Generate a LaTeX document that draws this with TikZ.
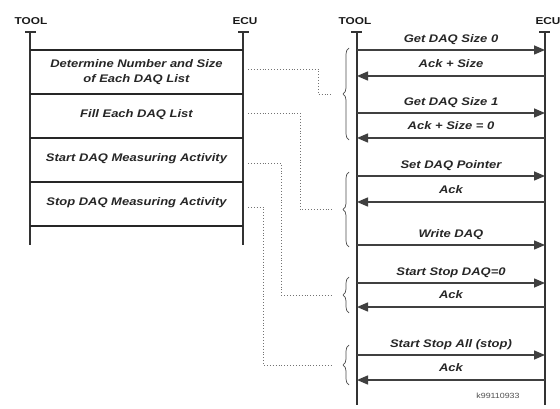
\documentclass[tikz,border=0pt]{standalone}
\usepackage{fontspec}
\newfontfamily\diagfont[FakeStretch=1.18]{Liberation Sans}
\usetikzlibrary{arrows.meta,decorations.pathreplacing,calc}

\begin{document}
\begin{tikzpicture}[x=1pt,y=-1pt,
  lifeline/.style={line width=2.6pt, draw=black!80},
  lifecap/.style={line width=2pt, draw=black!80},
  rowline/.style={line width=1.3pt, draw=black!85},
  msg/.style={line width=1.5pt, draw=black!75, -{Triangle[length=11pt,width=9pt]}},
  lbl/.style={font=\diagfont\fontsize{11}{15}\selectfont\bfseries\itshape, text=black!85, inner sep=0pt, align=center},
  head/.style={font=\diagfont\fontsize{10}{12}\selectfont\bfseries, text=black!90, inner sep=0pt},
  link/.style={dotted, line width=0.9pt, draw=black!55},
  bracket/.style={decorate, decoration={brace, amplitude=6pt}, line width=0.7pt, draw=black!70}
]
\useasboundingbox (0,0) rectangle (560,409);

% ---------- left: phases ----------
\node[head] (ltool) at (31,21) {TOOL};
\node[head] (lecu)  at (245,21) {ECU};
\draw[lifecap] (25,32) -- (36,32);
\draw[lifecap] (238,32) -- (249,32);
\draw[lifeline] (30,32) -- (30,245);
\draw[lifeline] (243,32) -- (243,245);
\foreach \y in {50,94,138,182,226}
  \draw[rowline] (30,\y) -- (243,\y);

\node[lbl] (p1) at (136.5,72) {Determine Number and Size\\of Each DAQ List};
\node[lbl] (p2) at (136.5,115) {Fill Each DAQ List};
\node[lbl] (p3) at (136.5,159) {Start DAQ Measuring Activity};
\node[lbl] (p4) at (136.5,203) {Stop DAQ Measuring Activity};

% ---------- right: messages ----------
\node[head] (rtool) at (355,21) {TOOL};
\node[head] (recu)  at (548,21) {ECU};
\draw[lifecap] (351,32) -- (362,32);
\draw[lifecap] (539,32) -- (550,32);
\draw[lifeline] (357,32) -- (357,405);
\draw[lifeline] (545,32) -- (545,405);

\foreach \y/\txt in {50/Get DAQ Size 0, 113/Get DAQ Size 1, 176/Set DAQ Pointer,
                     245/Write DAQ, 283/Start Stop DAQ=0, 355/Start Stop All (stop)}
  \draw[msg] (357,\y) -- (545,\y) node[lbl, midway, yshift=10pt] {\txt};
\foreach \y/\txt in {76/Ack + Size, 138/Ack + Size = 0, 202/Ack, 307/Ack, 380/Ack}
  \draw[msg] (545,\y) -- (357,\y) node[lbl, midway, yshift=12pt] {\txt};

\node[font=\diagfont\fontsize{7.5}{9}\selectfont, text=black!70, inner sep=0pt] (ref) at (498,396) {k99110933};

% ---------- braces grouping the messages ----------
\draw[bracket] (349,140) -- (349,48) coordinate[midway, xshift=-7pt] (b1);
\draw[bracket] (349,247) -- (349,172) coordinate[midway, xshift=-7pt] (b2);
\draw[bracket] (349,313) -- (349,277) coordinate[midway, xshift=-7pt] (b3);
\draw[bracket] (349,385) -- (349,345) coordinate[midway, xshift=-7pt] (b4);

% ---------- dotted links from phases to message groups ----------
\coordinate (s1) at (248,69);
\coordinate (s2) at (248,113);
\coordinate (s3) at (248,163);
\coordinate (s4) at (248,207);
\draw[link, shorten >=9pt] (s1) -| ([xshift=-24pt]b1) -- (b1);
\draw[link, shorten >=9pt] (s2) -| ([xshift=-42pt]b2) -- (b2);
\draw[link, shorten >=9pt] (s3) -| ([xshift=-61pt]b3) -- (b3);
\draw[link, shorten >=9pt] (s4) -| ([xshift=-79pt]b4) -- (b4);
\end{tikzpicture}
\end{document}
